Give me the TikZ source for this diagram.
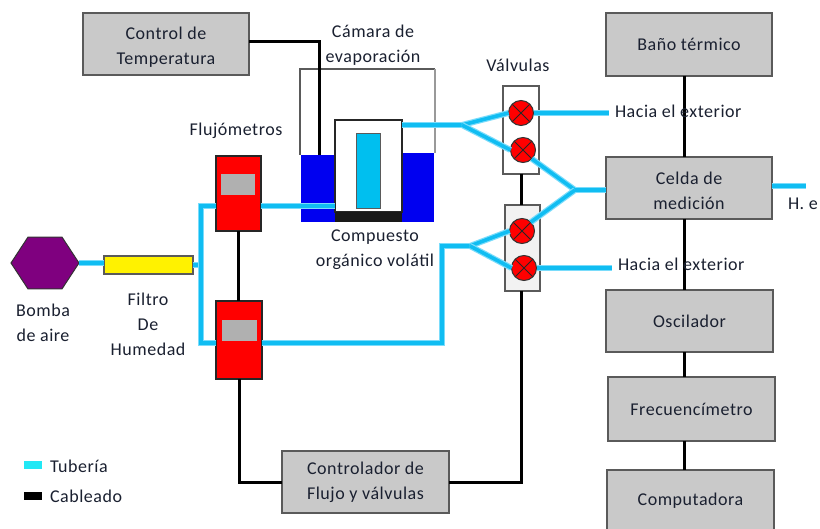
\documentclass[tikz,border=0pt]{standalone}
\usepackage{fontspec}
\setmainfont{Carlito}[LetterSpace=3]
\usetikzlibrary{shapes.geometric}
\definecolor{boxgray}{HTML}{C9C9C9}
\definecolor{edgegray}{HTML}{5A5A5A}
\definecolor{pipeblue}{HTML}{10BDF2}
\definecolor{pipelight}{HTML}{7ADCFB}
\definecolor{flowred}{HTML}{FF0000}
\definecolor{innergray}{HTML}{B0B0B0}
\definecolor{bathblue}{HTML}{0000F0}
\definecolor{vialcyan}{HTML}{00BFEF}
\definecolor{purplehex}{HTML}{7F007F}
\definecolor{darktext}{HTML}{1A2030}
\definecolor{legendcyan}{HTML}{22E8F5}
\newcommand{\lowerstrut}{\rule{0pt}{18pt}}
\tikzset{
  every node/.style={inner sep=0pt,outer sep=0pt,text=darktext,font=\fontsize{18}{25}\selectfont},
  graybox/.style={draw=edgegray,line width=1.2pt,fill=boxgray,align=center},
  flowbox/.style={draw=black!85,line width=1.4pt,fill=flowred},
  innerbox/.style={fill=innergray,draw=none},
  valvebox/.style={draw=edgegray,line width=1.2pt,fill=white},
  valve/.style={circle,draw=black!80,line width=1pt,fill=flowred,minimum size=25pt,
    path picture={\draw[black!85,line width=1pt]
      (path picture bounding box.north west)--(path picture bounding box.south east)
      (path picture bounding box.north east)--(path picture bounding box.south west);}},
  pipe/.style={preaction={draw=pipelight,line width=6pt},draw=pipeblue,line width=3.6pt,line join=miter},
  wire/.style={draw=black,line width=3pt,line join=miter},
  label/.style={align=center},
}
\begin{document}
\begin{tikzpicture}[x=1pt,y=-1pt]
\useasboundingbox (0,0) rectangle (820,529);
\clip (0,0) rectangle (820,529);
\fill[white] (0,0) rectangle (820,529);
% chamber outline
\draw[edgegray,line width=1.1pt] (300,155) -- (300,69) -- (435,69);
\draw[black!40,line width=1.1pt] (435,69) -- (435,153);
% gray boxes
\node[graybox,minimum width=166,minimum height=62] (control) at (166,44) {\lowerstrut Control de\\Temperatura};
\node[graybox,minimum width=166,minimum height=63] (bano) at (689,44.5) {Baño térmico};
\node[graybox,minimum width=166,minimum height=62] (celda) at (689,188) {\lowerstrut Celda de\\medición};
\node[graybox,minimum width=167,minimum height=62] (osc) at (689.5,321) {Oscilador};
\node[graybox,minimum width=167,minimum height=64] (frec) at (691.5,409) {Frecuencímetro};
\node[graybox,minimum width=167,minimum height=62] (comp) at (690.5,501) {Computadora};
\node[graybox,minimum width=167,minimum height=62] (ctrl) at (365.5,482) {Controlador de\\Flujo y válvulas};
% flowmeters
\node[flowbox,minimum width=45,minimum height=75] (f1) at (238.5,193.5) {};
\node[innerbox,minimum width=34,minimum height=21] (f1g) at (238,184.5) {};
\node[flowbox,minimum width=46,minimum height=78] (f2) at (239,340) {};
\node[innerbox,minimum width=35,minimum height=21] (f2g) at (239.5,330.5) {};
% pump and filter
\node[regular polygon,regular polygon sides=6,minimum size=68,yscale=0.88,draw=black!80,line width=1pt,fill=purplehex] (pump) at (45,263) {};
\node[draw=edgegray,line width=1.2pt,fill=yellow,minimum width=89,minimum height=18] (filter) at (148.5,265) {};
% evaporation bath
\node[fill=bathblue,minimum width=34,minimum height=67] (bl) at (318,188.5) {};
\node[fill=bathblue,minimum width=32,minimum height=69] (br) at (418,187.5) {};
\node[draw=black!85,line width=1.1pt,fill=white,minimum width=67,minimum height=92] (cell) at (368.5,166) {};
\node[fill=black!90,minimum width=67,minimum height=10] (comp2) at (368.5,217) {};
\node[draw=edgegray,line width=1pt,fill=vialcyan,minimum width=24,minimum height=75] (vial) at (368,171.5) {};
% valves
\node[valvebox,minimum width=36,minimum height=88] (vb1) at (521,130) {};
\node[valvebox,fill=black!5,minimum width=35,minimum height=86] (vb2) at (522.5,248) {};
\node[valve] (v1) at (521,113) {};
\node[valve] (v2) at (523,150) {};
\node[valve] (v3) at (522,231) {};
\node[valve] (v4) at (524,268) {};
% junctions and free ends
\coordinate (jA) at (462,125);
\coordinate (jB) at (575,190);
\coordinate (jC) at (470,246);
\coordinate (outA) at (609,113);
\coordinate (outB) at (612,268);
\coordinate (outC) at (806,186);
\coordinate (riserT) at (201,206);
\coordinate (riserB) at (201,343);
% pipes
\draw[pipe] (pump.east) -- (pump.east -| filter.west);
\draw[pipe] (filter.east) -- (riserT |- filter.east);
\draw[pipe] (f1.west |- riserT) -- (riserT) -- (riserB) -- (f2.west |- riserB);
\draw[pipe] (f1.east |- riserT) -- (cell.west |- riserT);
\draw[pipe] (f2.east |- riserB) -- (442,343) -- (442,246) -- (jC);
\draw[pipe] (jC) -- (v3.west);
\draw[pipe] (jC) -- (v4.west);
\draw[pipe] (cell.east |- jA) -- (jA);
\draw[pipe] (jA) -- (v1.west);
\draw[pipe] (jA) -- (v2.west);
\draw[pipe] (v1.east) -- (outA);
\draw[pipe] (v4.east) -- (outB);
\draw[pipe] (v2.south east) -- (jB);
\draw[pipe] (v3.north east) -- (jB);
\draw[pipe] (jB) -- (jB -| celda.west);
\draw[pipe] (celda.east |- outC) -- (outC);
% wires
\draw[wire] (control.east |- 0,42) -| (bl.north -| 319,0);
\draw[wire] (f1.south) -- (f1.south |- f2.north);
\draw[wire] (f2.south) |- (ctrl.west);
\draw[wire] (ctrl.east) -| (vb2.south -| vb1.south);
\draw[wire] (vb1.south) -- (vb1.south |- vb2.north);
\draw[wire] (bano.south -| 684,0) -- (celda.north -| 684,0);
\draw[wire] (celda.south -| 684,0) -- (osc.north -| 684,0);
\draw[wire] (osc.south -| 684,0) -- (frec.north -| 684,0);
\draw[wire] (frec.south -| 684,0) -- (comp.north -| 684,0);
% labels
\node[label] (tcam) at (373,45) {Cámara de\\evaporación};
\node[label] (tval) at (518,65) {Válvulas};
\node[label] (tflu) at (236,131) {Flujómetros};
\node[label] (tcom) at (375,250) {Compuesto\\orgánico volátil};
\node[label] (tbom) at (43,323) {Bomba\\de aire};
\node[label] (tfil) at (148,324) {Filtro\\De\\Humedad};
\node[anchor=west] (th1) at (615,111) {Hacia el exterior};
\node[anchor=west] (th2) at (618,264) {Hacia el exterior};
\node[anchor=west] (the) at (788,204) {H. e};
% legend
\node[fill=legendcyan,minimum width=18,minimum height=8] (lt) at (33,465) {};
\node[fill=black,minimum width=18,minimum height=8] (lc) at (33,496) {};
\node[anchor=west] (ltt) at (50,466) {Tubería};
\node[anchor=west] (lct) at (50,496) {Cableado};
\end{tikzpicture}
\end{document}
